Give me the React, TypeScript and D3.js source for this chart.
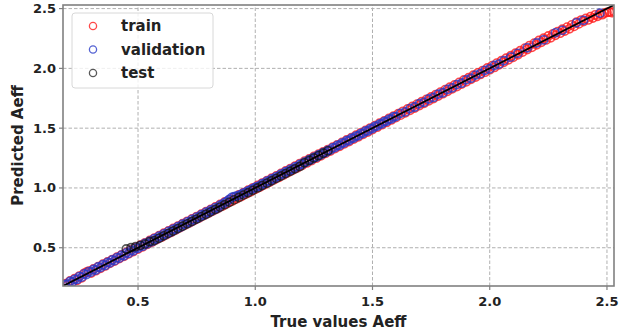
import React from "react";
import * as d3 from "d3";

// [true, predicted] pairs for each split
const trainPairs: [number, number][] = [
  [0.19,0.200],[0.20,0.188],[0.21,0.223],[0.22,0.209],[0.23,0.242],[0.24,0.228],[0.25,0.263],[0.26,0.249],[0.27,0.286],[0.28,0.295],
  [0.29,0.305],[0.30,0.288],[0.31,0.322],[0.32,0.308],[0.33,0.342],[0.34,0.328],[0.35,0.362],[0.36,0.348],[0.37,0.381],[0.38,0.369],
  [0.39,0.401],[0.40,0.388],[0.41,0.421],[0.42,0.409],[0.43,0.441],[0.44,0.428],[0.45,0.461],[0.46,0.449],[0.47,0.481],[0.48,0.468],
  [0.49,0.501],[0.50,0.489],[0.51,0.521],[0.52,0.508],[0.53,0.541],[0.54,0.529],[0.55,0.561],[0.56,0.548],[0.57,0.581],[0.58,0.569],
  [0.59,0.601],[0.60,0.588],[0.61,0.621],[0.62,0.609],[0.63,0.641],[0.64,0.628],[0.65,0.661],[0.66,0.649],[0.67,0.681],[0.68,0.668],
  [0.69,0.701],[0.70,0.689],[0.71,0.721],[0.72,0.708],[0.73,0.741],[0.74,0.729],[0.75,0.761],[0.76,0.748],[0.77,0.781],[0.78,0.769],
  [0.79,0.801],[0.80,0.788],[0.81,0.821],[0.82,0.809],[0.83,0.841],[0.84,0.828],[0.85,0.862],[0.86,0.849],[0.87,0.883],[0.88,0.869],
  [0.89,0.902],[0.90,0.889],[0.91,0.921],[0.92,0.909],[0.93,0.941],[0.94,0.928],[0.95,0.961],[0.96,0.949],[0.97,0.981],[0.98,0.968],
  [0.99,1.001],[1.00,0.989],[1.01,1.021],[1.02,1.008],[1.03,1.041],[1.04,1.029],[1.05,1.061],[1.06,1.048],[1.07,1.081],[1.08,1.069],
  [1.09,1.101],[1.10,1.088],[1.11,1.122],[1.12,1.109],[1.13,1.142],[1.14,1.128],[1.15,1.162],[1.16,1.149],[1.17,1.183],[1.18,1.169],
  [1.19,1.204],[1.20,1.189],[1.21,1.224],[1.22,1.209],[1.23,1.243],[1.24,1.229],[1.25,1.263],[1.26,1.249],[1.27,1.283],[1.28,1.268],
  [1.29,1.302],[1.30,1.289],[1.31,1.321],[1.32,1.308],[1.33,1.341],[1.34,1.329],[1.35,1.361],[1.36,1.348],[1.37,1.381],[1.38,1.369],
  [1.39,1.401],[1.40,1.388],[1.41,1.421],[1.42,1.409],[1.43,1.441],[1.44,1.428],[1.45,1.461],[1.46,1.449],[1.47,1.481],[1.48,1.468],
  [1.49,1.501],[1.50,1.489],[1.51,1.521],[1.52,1.508],[1.53,1.541],[1.54,1.529],[1.55,1.561],[1.56,1.548],[1.57,1.581],[1.58,1.569],
  [1.59,1.601],[1.60,1.588],[1.61,1.621],[1.62,1.609],[1.63,1.641],[1.64,1.628],[1.65,1.661],[1.66,1.649],[1.67,1.681],[1.68,1.668],
  [1.69,1.701],[1.70,1.689],[1.71,1.721],[1.72,1.708],[1.73,1.741],[1.74,1.729],[1.75,1.761],[1.76,1.748],[1.77,1.781],[1.78,1.769],
  [1.79,1.801],[1.80,1.788],[1.81,1.822],[1.82,1.808],[1.83,1.842],[1.84,1.829],[1.85,1.862],[1.86,1.848],[1.87,1.883],[1.88,1.869],
  [1.89,1.903],[1.90,1.888],[1.91,1.922],[1.92,1.909],[1.93,1.943],[1.94,1.928],[1.95,1.963],[1.96,1.949],[1.97,1.982],[1.98,1.968],
  [1.99,2.003],[2.00,1.989],[2.01,2.023],[2.02,2.008],[2.03,2.044],[2.04,2.029],[2.05,2.064],[2.06,2.051],[2.07,2.085],[2.08,2.072],
  [2.09,2.106],[2.10,2.093],[2.11,2.127],[2.12,2.114],[2.13,2.148],[2.14,2.136],[2.15,2.169],[2.16,2.157],[2.17,2.191],[2.18,2.176],
  [2.19,2.211],[2.20,2.197],[2.21,2.233],[2.22,2.218],[2.23,2.252],[2.24,2.238],[2.25,2.271],[2.26,2.256],[2.27,2.289],[2.28,2.276],
  [2.29,2.308],[2.30,2.294],[2.31,2.327],[2.32,2.312],[2.33,2.345],[2.34,2.331],[2.35,2.364],[2.36,2.351],[2.37,2.386],[2.38,2.372],
  [2.39,2.404],[2.40,2.391],[2.41,2.418],[2.42,2.405],[2.43,2.433],[2.44,2.421],[2.45,2.448],[2.46,2.436],[2.47,2.455],[2.48,2.449],
  [2.49,2.462],[2.50,2.468],[2.51,2.471],[2.52,2.466],[2.53,2.475],
];

const validationPairs: [number, number][] = [
  [0.19,0.193],[0.20,0.196],[0.21,0.218],[0.22,0.214],[0.23,0.236],[0.24,0.235],[0.25,0.259],[0.26,0.254],[0.27,0.281],[0.28,0.276],
  [0.29,0.301],[0.30,0.296],[0.31,0.318],[0.32,0.313],[0.33,0.339],[0.34,0.334],[0.35,0.358],[0.36,0.352],[0.37,0.377],[0.38,0.374],
  [0.39,0.398],[0.40,0.392],[0.41,0.417],[0.42,0.413],[0.43,0.437],[0.44,0.433],[0.45,0.457],[0.46,0.454],[0.47,0.478],[0.48,0.474],
  [0.49,0.497],[0.50,0.495],[0.51,0.516],[0.52,0.513],[0.53,0.537],[0.54,0.533],[0.55,0.556],[0.56,0.552],[0.57,0.577],[0.58,0.573],
  [0.59,0.596],[0.60,0.593],[0.61,0.616],[0.62,0.612],[0.63,0.637],[0.64,0.632],[0.65,0.656],[0.66,0.653],[0.67,0.676],[0.68,0.672],
  [0.69,0.697],[0.70,0.693],[0.71,0.716],[0.72,0.712],[0.73,0.737],[0.74,0.733],[0.75,0.756],[0.76,0.753],[0.77,0.776],[0.78,0.772],
  [0.79,0.797],[0.80,0.793],[0.81,0.816],[0.82,0.813],[0.83,0.836],[0.84,0.832],[0.85,0.857],[0.86,0.862],[0.87,0.878],[0.88,0.889],
  [0.89,0.905],[0.90,0.921],[0.91,0.928],[0.92,0.931],[0.93,0.938],[0.94,0.946],[0.95,0.957],[0.96,0.963],[0.97,0.976],[0.98,0.984],
  [0.99,0.995],[1.00,1.004],[1.01,1.013],[1.02,1.016],[1.03,1.035],[1.04,1.037],[1.05,1.056],[1.06,1.055],[1.07,1.076],[1.08,1.077],
  [1.09,1.095],[1.10,1.097],[1.11,1.116],[1.12,1.117],[1.13,1.136],[1.14,1.137],[1.15,1.156],[1.16,1.157],[1.17,1.176],[1.18,1.178],
  [1.19,1.197],[1.20,1.198],[1.21,1.216],[1.22,1.218],[1.23,1.236],[1.24,1.238],[1.25,1.256],[1.26,1.257],[1.27,1.276],[1.28,1.277],
  [1.29,1.296],[1.30,1.297],[1.31,1.315],[1.32,1.317],[1.33,1.335],[1.34,1.337],[1.35,1.355],[1.36,1.357],[1.37,1.375],[1.38,1.377],
  [1.39,1.395],[1.40,1.397],[1.41,1.414],[1.42,1.417],[1.43,1.434],[1.44,1.437],[1.45,1.454],[1.46,1.457],[1.47,1.474],[1.48,1.477],
  [1.49,1.494],[1.50,1.497],[1.51,1.514],[1.52,1.517],[1.53,1.534],[1.54,1.537],[1.55,1.554],[1.56,1.557],[1.57,1.574],[1.58,1.577],
  [1.59,1.594],[1.60,1.597],[1.62,1.624],[1.64,1.636],[1.66,1.664],[1.68,1.677],[1.70,1.704],[1.72,1.716],[1.74,1.744],[1.76,1.757],
  [1.78,1.784],[1.80,1.796],[1.82,1.824],[1.84,1.837],[1.86,1.864],[1.88,1.876],[1.90,1.904],[1.92,1.917],[1.94,1.944],[1.96,1.956],
  [1.98,1.984],[2.00,1.997],[2.02,2.024],[2.04,2.036],[2.06,2.064],[2.09,2.094],[2.12,2.126],[2.16,2.172],[2.20,2.212],[2.23,2.238],
  [2.28,2.297],[2.31,2.318],[2.37,2.381],[2.40,2.402],[2.47,2.462],
];

const testPairs: [number, number][] = [
  [0.45,0.49],[0.47,0.50],[0.49,0.51],[0.51,0.52],[0.53,0.53],[0.55,0.55],[0.57,0.56],[0.59,0.58],[0.61,0.60],[0.63,0.62],
  [0.65,0.64],[0.67,0.66],[0.69,0.68],[0.71,0.70],[0.73,0.72],[0.75,0.74],[0.77,0.76],[0.79,0.78],[0.81,0.80],[0.83,0.82],
  [0.85,0.84],[0.87,0.86],[0.89,0.88],[0.91,0.90],[0.93,0.92],[0.95,0.94],[0.97,0.96],[0.99,0.98],[1.01,1.00],[1.03,1.02],
  [1.05,1.04],[1.07,1.06],[1.09,1.08],[1.11,1.10],[1.13,1.12],[1.15,1.14],[1.17,1.16],[1.19,1.18],[1.21,1.21],[1.23,1.23],
  [1.25,1.25],[1.27,1.27],[1.29,1.29],[1.31,1.31],
];

const axisDomain: [number, number] = [0.18, 2.53];
const tickValues = [0.5, 1.0, 1.5, 2.0, 2.5];

const seriesNames = ["train", "validation", "test"];
const seriesColors = ["#ff1a1a", "#2a3cc8", "#111111"];
const seriesOpacity = [0.8, 0.8, 0.7];

const W = 619;
const H = 332;
const M = { left: 63, right: 5, top: 5, bottom: 46 };
const FONT = "'DejaVu Sans', sans-serif";

export default function App() {
  const x = d3.scaleLinear().domain(axisDomain).range([M.left, W - M.right]);
  const y = d3.scaleLinear().domain(axisDomain).range([H - M.bottom, M.top]);
  const [x0, x1] = x.range();
  const [y0, y1] = y.range();
  const allSeries = [trainPairs, validationPairs, testPairs];

  return (
    <svg
      width={W}
      height={H}
      style={{ position: "absolute", left: 0, top: 0, background: "white" }}
      fontFamily={FONT}
    >
      <defs>
        <clipPath id="plot-clip">
          <rect x={x0} y={y1} width={x1 - x0} height={y0 - y1} />
        </clipPath>
      </defs>

      {/* grid */}
      {tickValues.map((t) => (
        <g key={"g" + t}>
          <line x1={x(t)} x2={x(t)} y1={y0} y2={y1} stroke="#b0b0b0" strokeWidth={1} strokeDasharray="3.5,2" />
          <line x1={x0} x2={x1} y1={y(t)} y2={y(t)} stroke="#b0b0b0" strokeWidth={1} strokeDasharray="3.5,2" />
        </g>
      ))}

      {/* points */}
      <g clipPath="url(#plot-clip)">
        {allSeries.map((pairs, si) => (
          <g
            key={seriesNames[si]}
            fill="none"
            stroke={seriesColors[si]}
            strokeOpacity={seriesOpacity[si]}
            strokeWidth={1.6}
          >
            {pairs.map(([tv, pv], i) => (
              <circle key={i} cx={x(tv)} cy={y(pv)} r={4.1} />
            ))}
          </g>
        ))}
        <line
          x1={x(axisDomain[0])}
          y1={y(axisDomain[0])}
          x2={x(axisDomain[1])}
          y2={y(axisDomain[1])}
          stroke="black"
          strokeWidth={1.8}
        />
      </g>

      {/* frame */}
      <rect x={x0} y={y1} width={x1 - x0} height={y0 - y1} fill="none" stroke="#808080" strokeWidth={1.6} />

      {/* ticks */}
      {tickValues.map((t) => (
        <g key={"t" + t}>
          <line x1={x(t)} x2={x(t)} y1={y0} y2={y0 + 4} stroke="#808080" strokeWidth={1.2} />
          <text x={x(t)} y={y0 + 20} textAnchor="middle" fontSize={13} fontWeight="bold" fill="#222">
            {t.toFixed(1)}
          </text>
          <line x1={x0 - 4} x2={x0} y1={y(t)} y2={y(t)} stroke="#808080" strokeWidth={1.2} />
          <text x={x0 - 7} y={y(t) + 4.5} textAnchor="end" fontSize={13} fontWeight="bold" fill="#222">
            {t.toFixed(1)}
          </text>
        </g>
      ))}

      {/* axis labels */}
      <text x={(x0 + x1) / 2} y={H - 5} textAnchor="middle" fontSize={15} fontWeight="bold" fill="#222">
        True values Aeff
      </text>
      <text
        transform={`translate(23,${(y0 + y1) / 2}) rotate(-90)`}
        textAnchor="middle"
        fontSize={15}
        fontWeight="bold"
        fill="#222"
      >
        Predicted Aeff
      </text>

      {/* legend */}
      <g>
        <rect x={72} y={13} width={141} height={75} rx={3} fill="white" fillOpacity={0.8} stroke="#d8d8d8" strokeWidth={1} />
        {seriesNames.map((name, i) => (
          <g key={name}>
            <circle
              cx={93}
              cy={26 + i * 23.5}
              r={3.6}
              fill="none"
              stroke={seriesColors[i]}
              strokeOpacity={seriesOpacity[i]}
              strokeWidth={1.3}
            />
            <text x={121} y={31 + i * 23.5} fontSize={15} fontWeight="bold" fill="#222">
              {name}
            </text>
          </g>
        ))}
      </g>
    </svg>
  );
}
